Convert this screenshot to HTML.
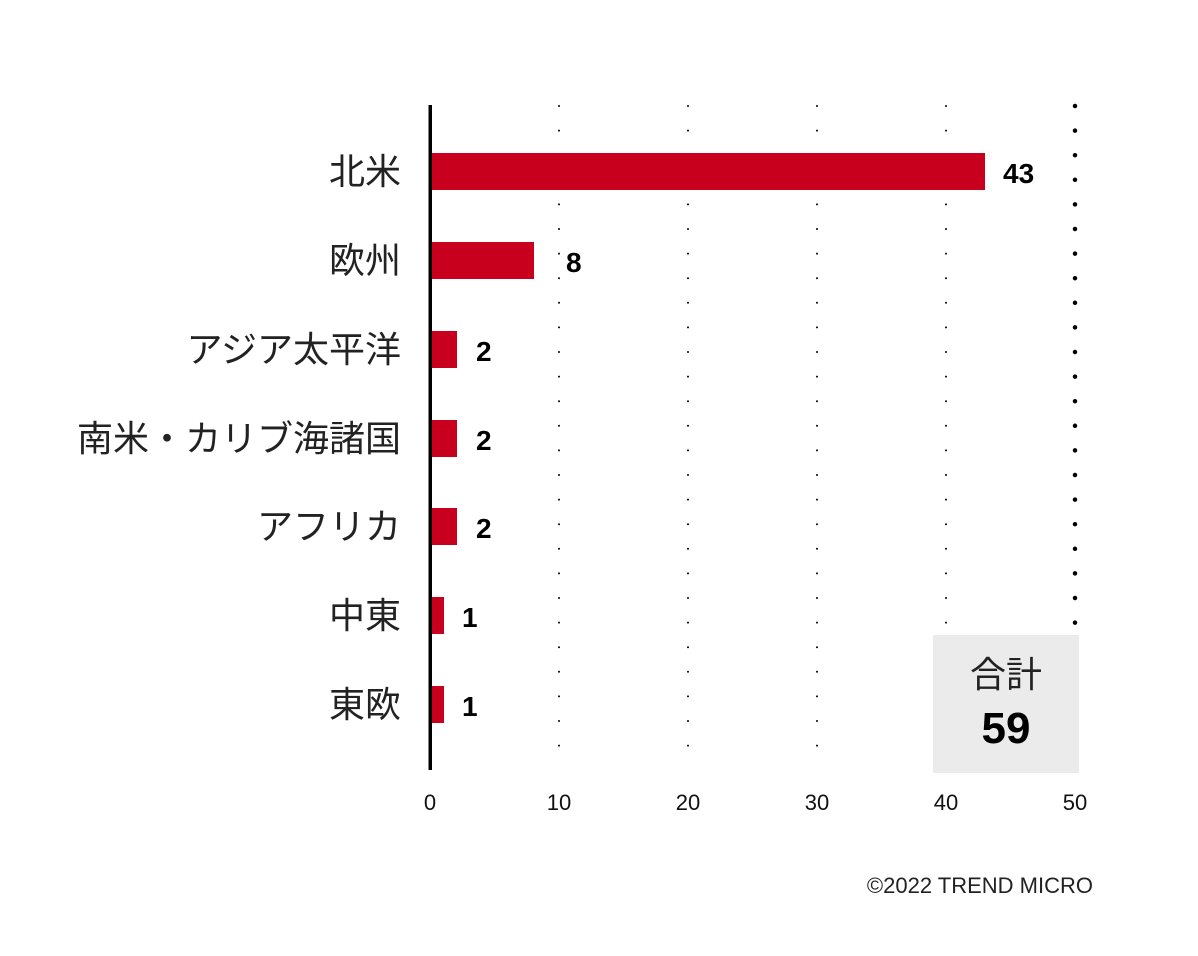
<!DOCTYPE html>
<html><head><meta charset="utf-8"><style>
body{margin:0;background:#fff;}
svg{display:block;}
text{font-family:"Liberation Sans","Noto Sans CJK JP",sans-serif;}
</style></head><body>
<svg width="1198" height="956" xmlns="http://www.w3.org/2000/svg">
<g stroke="#000" stroke-linecap="round">
<line x1="559" y1="106" x2="559" y2="770" stroke-width="2" stroke-dasharray="0 24.6"/>
<line x1="688" y1="106" x2="688" y2="770" stroke-width="2" stroke-dasharray="0 24.6"/>
<line x1="817" y1="106" x2="817" y2="770" stroke-width="2" stroke-dasharray="0 24.6"/>
<line x1="946" y1="106" x2="946" y2="770" stroke-width="2" stroke-dasharray="0 24.6"/>
<line x1="1075" y1="106" x2="1075" y2="625" stroke-width="4.5" stroke-dasharray="0 24.6"/>
</g>
<rect x="933" y="635" width="146" height="138" fill="#ebebeb"/>
<text x="1006" y="687" font-size="36" text-anchor="middle" fill="#222">合計</text>
<text x="1006" y="743" font-size="44" font-weight="bold" text-anchor="middle" fill="#000">59</text>
<g fill="#c8001e">
<rect x="431" y="153" width="554" height="37"/>
<rect x="431" y="242" width="103" height="37"/>
<rect x="431" y="331" width="26" height="37"/>
<rect x="431" y="420" width="26" height="37"/>
<rect x="431" y="508" width="26" height="37"/>
<rect x="431" y="597" width="13" height="37"/>
<rect x="431" y="686" width="13" height="37"/>
</g>
<rect x="428.5" y="105" width="3.5" height="665" fill="#000"/>
<g font-size="28" font-weight="bold" fill="#000">
<text x="1003" y="183">43</text>
<text x="566" y="272">8</text>
<text x="476" y="361">2</text>
<text x="476" y="450">2</text>
<text x="476" y="538">2</text>
<text x="462" y="627">1</text>
<text x="462" y="716">1</text>
</g>
<g font-size="36" text-anchor="end" fill="#222">
<text x="401" y="184">北米</text>
<text x="401" y="273">欧州</text>
<text x="401" y="362">アジア太平洋</text>
<text x="401" y="451">南米・カリブ海諸国</text>
<text x="401" y="539">アフリカ</text>
<text x="401" y="628">中東</text>
<text x="401" y="717">東欧</text>
</g>
<g font-size="22" text-anchor="middle" fill="#111">
<text x="430" y="810">0</text>
<text x="559" y="810">10</text>
<text x="688" y="810">20</text>
<text x="817" y="810">30</text>
<text x="946" y="810">40</text>
<text x="1075" y="810">50</text>
</g>
<text x="1093" y="893" font-size="22" text-anchor="end" fill="#222">©2022 TREND MICRO</text>
</svg>
</body></html>
